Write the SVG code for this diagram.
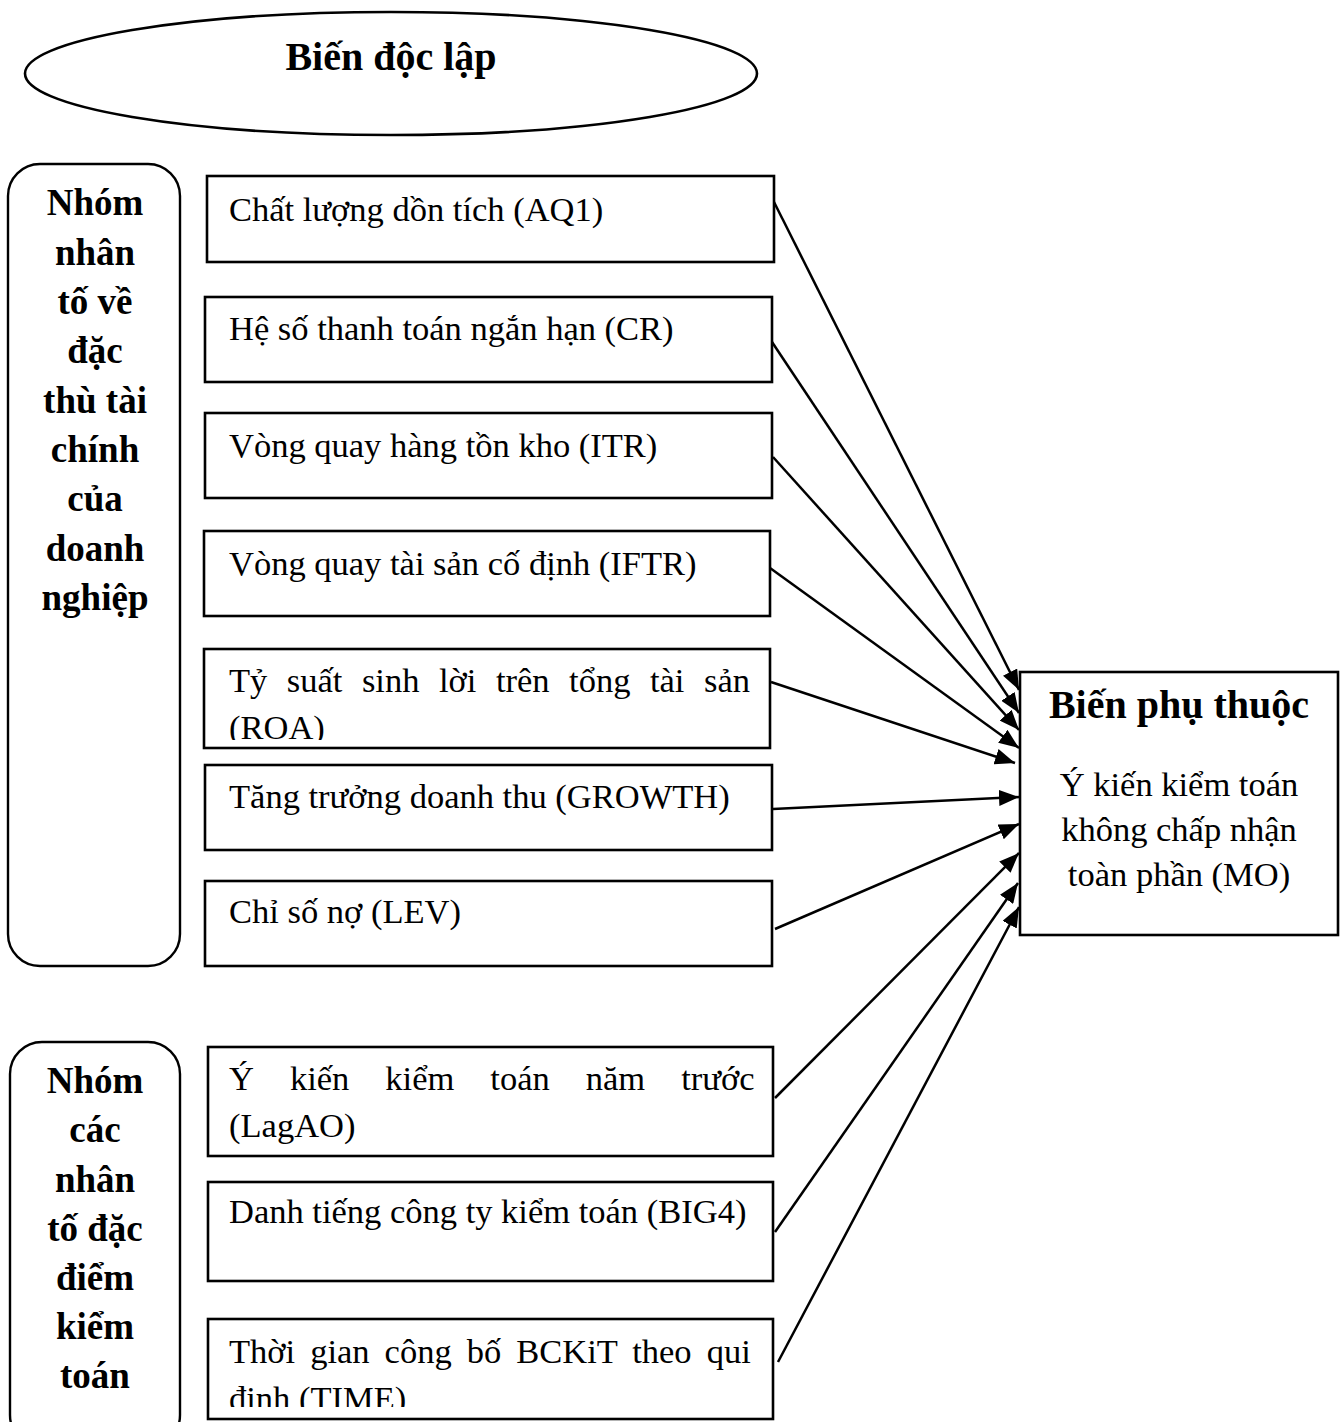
<svg xmlns="http://www.w3.org/2000/svg" width="1342" height="1422" viewBox="0 0 1342 1422">
<style>
.box{fill:#fff;stroke:#000;stroke-width:2.6}
.grp{fill:#fff;stroke:#000;stroke-width:2.4}
.t{font-family:"Liberation Serif","Times New Roman",serif;font-size:34.5px;fill:#000}
.g{font-family:"Liberation Serif","Times New Roman",serif;font-size:37px;font-weight:bold;fill:#000;text-anchor:middle}
.h{font-family:"Liberation Serif","Times New Roman",serif;font-size:40px;font-weight:bold;fill:#000;text-anchor:middle}
.c{text-anchor:middle}
.ln{stroke:#000;stroke-width:2.5;fill:none;marker-end:url(#ah)}
</style>
<defs>
<marker id="ah" markerUnits="userSpaceOnUse" markerWidth="22" markerHeight="16" refX="20" refY="8" orient="auto">
<path d="M0,0 L20,8 L0,16 Z" fill="#000"/>
</marker>
<clipPath id="clipROA"><rect x="206" y="650" width="563" height="90"/></clipPath>
<clipPath id="clipTIME"><rect x="209" y="1320" width="563" height="87"/></clipPath>
</defs>
<rect width="1342" height="1422" fill="#fff"/>

<g id="title">
<ellipse cx="391" cy="73.5" rx="366" ry="61.5" fill="#fff" stroke="#000" stroke-width="2.6"/>
<text class="h" x="391" y="70">Biến độc lập</text>
</g>

<g id="group1">
<rect class="grp" x="8" y="164" width="172" height="802" rx="32" ry="32"/>
<text class="g" x="95" y="215">Nhóm</text>
<text class="g" x="95" y="264.5">nhân</text>
<text class="g" x="95" y="314">tố về</text>
<text class="g" x="95" y="363">đặc</text>
<text class="g" x="95" y="413">thù tài</text>
<text class="g" x="95" y="462">chính</text>
<text class="g" x="95" y="511">của</text>
<text class="g" x="95" y="561">doanh</text>
<text class="g" x="95" y="610">nghiệp</text>
</g>

<g id="group2">
<rect class="grp" x="10" y="1042" width="170" height="405" rx="32" ry="32"/>
<text class="g" x="95" y="1093">Nhóm</text>
<text class="g" x="95" y="1142">các</text>
<text class="g" x="95" y="1191.5">nhân</text>
<text class="g" x="95" y="1240.5">tố đặc</text>
<text class="g" x="95" y="1289.5">điểm</text>
<text class="g" x="95" y="1338.5">kiểm</text>
<text class="g" x="95" y="1388">toán</text>
</g>

<g id="AQ1">
<rect class="box" x="207" y="176" width="567" height="86"/>
<text class="t" x="229" y="221">Chất lượng dồn tích (AQ1)</text>
</g>
<g id="CR">
<rect class="box" x="205" y="297" width="567" height="85"/>
<text class="t" x="229" y="340">Hệ số thanh toán ngắn hạn (CR)</text>
</g>
<g id="ITR">
<rect class="box" x="205" y="413" width="567" height="85"/>
<text class="t" x="229" y="457">Vòng quay hàng tồn kho (ITR)</text>
</g>
<g id="IFTR">
<rect class="box" x="204" y="531" width="566" height="85"/>
<text class="t" x="229" y="575">Vòng quay tài sản cố định (IFTR)</text>
</g>
<g id="ROA">
<rect class="box" x="204" y="649" width="566" height="99"/>
<g clip-path="url(#clipROA)">
<text class="t" x="229" y="692" word-spacing="10.9">Tỷ suất sinh lời trên tổng tài sản</text>
<text class="t" x="229" y="739">(ROA)</text>
</g>
</g>
<g id="GROWTH">
<rect class="box" x="205" y="765" width="567" height="85"/>
<text class="t" x="229" y="808">Tăng trưởng doanh thu (GROWTH)</text>
</g>
<g id="LEV">
<rect class="box" x="205" y="881" width="567" height="85"/>
<text class="t" x="229" y="923">Chỉ số nợ (LEV)</text>
</g>
<g id="LagAO">
<rect class="box" x="208" y="1047" width="565" height="109"/>
<text class="t" x="229" y="1090" word-spacing="27.4">Ý kiến kiểm toán năm trước</text>
<text class="t" x="229" y="1137">(LagAO)</text>
</g>
<g id="BIG4">
<rect class="box" x="208" y="1182" width="565" height="99"/>
<text class="t" x="229" y="1223">Danh tiếng công ty kiểm toán (BIG4)</text>
</g>
<g id="TIME">
<rect class="box" x="208" y="1319" width="565" height="100"/>
<g clip-path="url(#clipTIME)">
<text class="t" x="229" y="1363" word-spacing="6.4">Thời gian công bố BCKiT theo qui</text>
<text class="t" x="229" y="1410">đinh (TIME)</text>
</g>
</g>

<g id="MO">
<rect class="box" x="1020" y="672" width="318" height="263"/>
<text class="h" x="1179" y="718">Biến phụ thuộc</text>
<text class="t c" x="1179" y="796">Ý kiến kiểm toán</text>
<text class="t c" x="1179" y="841">không chấp nhận</text>
<text class="t c" x="1179" y="886">toàn phần (MO)</text>
</g>

<g id="connectors">
<line class="ln" x1="774" y1="202" x2="1019" y2="690"/>
<line class="ln" x1="772" y1="342" x2="1019" y2="713"/>
<line class="ln" x1="773" y1="457" x2="1019" y2="730"/>
<line class="ln" x1="770" y1="568" x2="1019" y2="748"/>
<line class="ln" x1="771" y1="682" x2="1015" y2="763"/>
<line class="ln" x1="773" y1="809" x2="1019" y2="797"/>
<line class="ln" x1="775" y1="929" x2="1019" y2="824"/>
<line class="ln" x1="775" y1="1098" x2="1019" y2="853"/>
<line class="ln" x1="775" y1="1232" x2="1018" y2="883"/>
<line class="ln" x1="778" y1="1362" x2="1019" y2="907"/>
</g>
</svg>
